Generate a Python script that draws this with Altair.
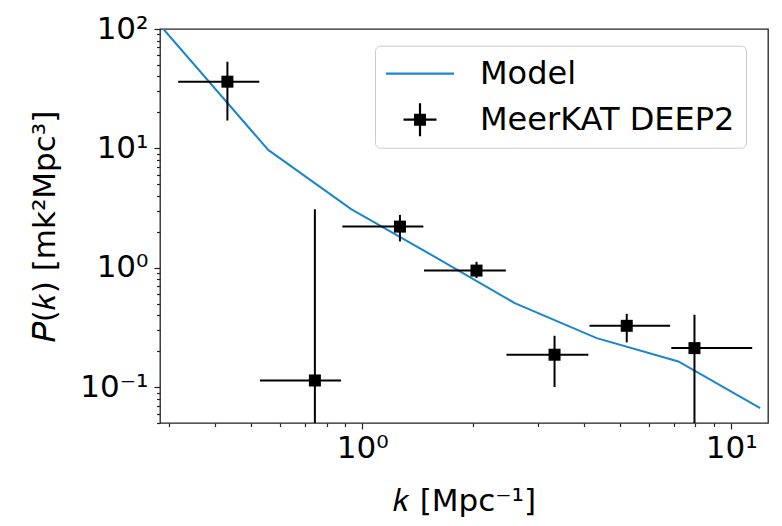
import altair as alt
import pandas as pd

# ---- data ----
k_data = [0.431, 0.744, 1.265, 2.04, 3.32, 5.21, 7.95]
p_data = [36.2, 0.1136, 2.21, 0.946, 0.1866, 0.326, 0.212]
k_lo = [0.317, 0.528, 0.883, 1.47, 2.46, 4.13, 6.88]
k_hi = [0.526, 0.876, 1.464, 2.45, 4.10, 6.83, 11.4]
p_lo = [17.1, 0.001, 1.66, 0.82, 0.100, 0.237, 0.001]
p_hi = [53.2, 3.09, 2.77, 1.12, 0.269, 0.411, 0.404]

k_model = [0.289, 0.556, 0.933, 1.556, 2.59, 4.32, 7.19, 11.98]
p_model = [100.0, 9.7, 3.1, 1.256, 0.505, 0.257, 0.164, 0.0665]

series_names = ["Model", "MeerKAT DEEP2"]
x_ticks = [0.3, 0.4, 0.5, 0.6, 0.7, 0.8, 0.9, 1, 2, 3, 4, 5, 6, 7, 8, 9, 10]
y_ticks = [0.05, 0.06, 0.07, 0.08, 0.09, 0.1, 0.2, 0.3, 0.4, 0.5, 0.6, 0.7, 0.8, 0.9,
           1, 2, 3, 4, 5, 6, 7, 8, 9, 10, 20, 30, 40, 50, 60, 70, 80, 90, 100]

FONT = "DejaVu Sans"
BLUE = "#1a86cc"
FS = 31

obs = pd.DataFrame({"k": k_data, "P": p_data, "klo": k_lo, "khi": k_hi,
                    "plo": p_lo, "phi": p_hi})
model = pd.DataFrame({"k": k_model, "P": p_model})
leg = pd.DataFrame({"series": series_names})

is_major = "abs(log(datum.value)/LN10 - round(log(datum.value)/LN10)) < 1e-6"
exp_ = "round(log(datum.value)/LN10)"
label_expr = (f"({is_major}) ? ('10' + ({exp_} == -1 ? '⁻¹' : {exp_} == 0 ? '⁰' : "
              f"{exp_} == 1 ? '¹' : {exp_} == 2 ? '²' : '')) : ''")
tick_size = {"condition": {"test": is_major, "value": 6}, "value": 3.5}

xscale = alt.Scale(type="log", domain=[0.283, 12.58], nice=False)
yscale = alt.Scale(type="log", domain=[0.05, 100], nice=False)

xaxis = alt.Axis(values=x_ticks, labelExpr=label_expr, tickSize=tick_size,
                 title="𝑘 [Mpc⁻¹]", grid=False, domain=False,
                 labelFont=FONT, labelFontSize=FS, labelColor="black",
                 labelPadding=4, tickColor="#222", tickWidth=1.2,
                 titleFont=FONT, titleFontSize=FS, titleFontWeight="normal",
                 titleColor="black", titleBaseline="alphabetic", titleY=87,
                 labelFlush=False, labelOverlap=False)
yaxis = alt.Axis(values=y_ticks, labelExpr=label_expr, tickSize=tick_size,
                 title="𝑃(𝑘) [mk²Mpc³]", grid=False, domain=False,
                 labelFont=FONT, labelFontSize=FS, labelColor="black",
                 labelPadding=6, tickColor="#222", tickWidth=1.2,
                 titleFont=FONT, titleFontSize=FS, titleFontWeight="normal",
                 titleColor="black", titleBaseline="alphabetic", titleX=-106,
                 titleY=197, titleAngle=270,
                 labelFlush=False, labelOverlap=False)

line = alt.Chart(model).mark_line(color=BLUE, strokeWidth=2, clip=True).encode(
    x=alt.X("k:Q", scale=xscale, axis=xaxis),
    y=alt.Y("P:Q", scale=yscale, axis=yaxis),
)

xerr = alt.Chart(obs).mark_rule(color="black", strokeWidth=2, clip=True).encode(
    x="klo:Q", x2="khi:Q", y="P:Q")
yerr = alt.Chart(obs).mark_rule(color="black", strokeWidth=2, clip=True).encode(
    x="k:Q", y="plo:Q", y2="phi:Q")
pts = alt.Chart(obs).mark_square(color="black", size=144, opacity=1, clip=True).encode(
    x="k:Q", y="P:Q")

line_path = "M-2,-0.065H2V0.065H-2Z"
cross_path = ("M-0.97,-0.065H0.97V0.065H-0.97Z M-0.065,-0.97H0.065V0.97H-0.065Z "
              "M-0.35,-0.35H0.35V0.35H-0.35Z")

# legend-only layer: its own marks sit outside the clipped plot area
legend_layer = alt.Chart(leg).mark_point(filled=True, opacity=1, clip=True).encode(
    x=alt.value(-2000), y=alt.value(-2000),
    color=alt.Color("series:N", scale=alt.Scale(domain=series_names, range=[BLUE, "black"]),
                    legend=alt.Legend(orient="none", legendX=215, legendY=16.7, title=None,
                                      labelFont=FONT, labelFontSize=32, labelColor="black",
                                      labelLimit=500, symbolSize=1156, symbolStrokeWidth=0,
                                      symbolOpacity=1, symbolFillColor="black",
                                      labelOffset=43, symbolOffset=17,
                                      rowPadding=13, padding=11,
                                      strokeColor="#cccccc", fillColor="rgba(255,255,255,0.8)",
                                      cornerRadius=5)),
    shape=alt.Shape("series:N", scale=alt.Scale(domain=series_names,
                                                range=[line_path, cross_path])),
)

chart = alt.layer(line, xerr, yerr, pts, legend_layer).properties(
    width=608, height=394,
    autosize=alt.AutoSizeParams(type="none"),
    padding={"left": 160, "top": 29, "right": 14, "bottom": 103},
    background="white",
).configure_view(stroke="#222", strokeWidth=1.3)

chart.save("out.html", embed_options={"renderer": "svg", "actions": False})
